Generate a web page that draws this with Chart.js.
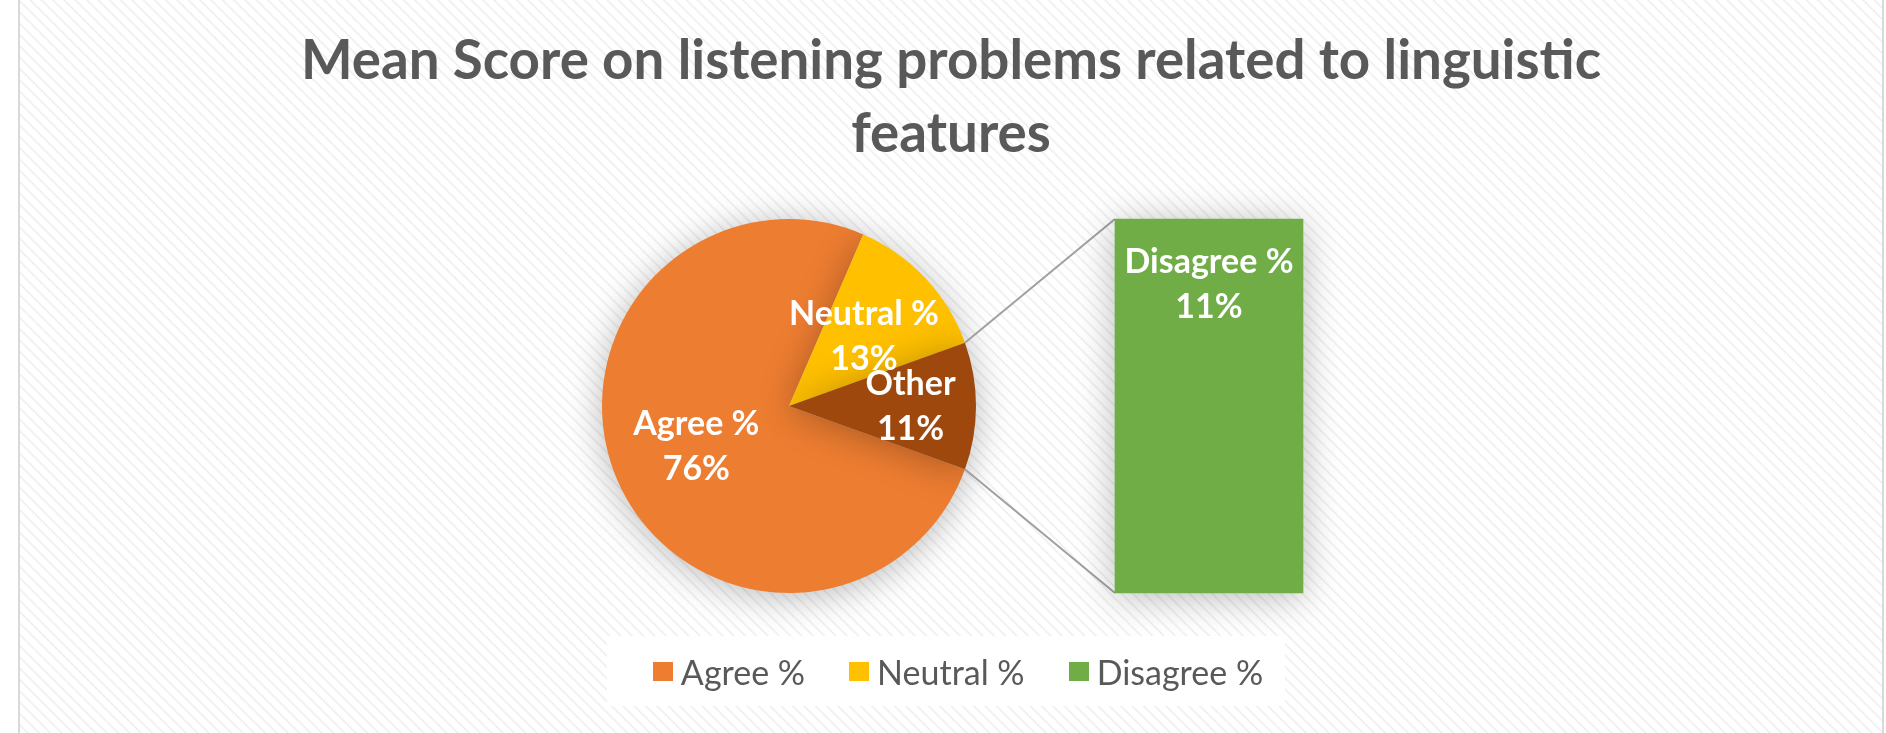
<!DOCTYPE html>
<html lang="en">
<head>
  <meta charset="UTF-8">
  <title>Mean Score on listening problems related to linguistic features</title>
  <script src="https://cdn.jsdelivr.net/npm/chart.js"></script>
  <style>
    body { margin: 0; background: #fff; }
    #page { position: relative; width: 1886px; height: 733px; overflow: hidden; background: #fff; }
    #frame {
      position: absolute; left: 18px; top: 0; width: 1862px; height: 733px;
      border-left: 2px solid #d9d9d9; border-right: 2px solid #d9d9d9;
      background: repeating-linear-gradient(45deg, #ffffff 0px, #ffffff 4px, #ededed 5.5px, #ffffff 7px, #ffffff 8px);
    }
    #title {
      position: absolute; left: 0; width: 1902px; top: 22px; text-align: center;
      font-family: Lato, sans-serif; font-weight: bold; color: #595959;
      font-size: 50px; line-height: 73px; white-space: nowrap;
    }
    canvas { position: absolute; left: 0; top: 0; }
    #legendBox {
      position: absolute; left: 607px; top: 636px; width: 678px; height: 70px;
      background: rgba(255,255,255,0.92);
    }
    #legend {
      position: absolute; left: 619px; top: 636px; width: 678px; height: 70px;
      display: flex; justify-content: center; align-items: center;
      font-family: Lato, sans-serif; font-size: 34px; color: #595959; white-space: nowrap;
    }
    .item { display: flex; align-items: center; margin: 0 22px; flex-shrink: 0; }
    .box { width: 20px; height: 19px; margin-right: 8px; }
  </style>
</head>
<body>
  <div id="page">
    <div id="frame"></div>
    <div id="title">Mean Score on listening problems related to linguistic<br>features</div>
    <canvas id="pieChart" width="1886" height="733"></canvas>
    <canvas id="barChart" width="1886" height="733"></canvas>
    <div id="legendBox"></div>
    <div id="legend"></div>
  </div>

  <script>
    // chart data
    const categories = ['Agree %', 'Neutral %', 'Disagree %'];
    const values = [76, 13, 11];
    const colors = ['#ED7D31', '#FFC000', '#70AD47'];
    // first two stay in the pie, the rest is split off into the bar
    const pieLabels = ['Agree %', 'Neutral %', 'Other'];
    const pieValues = [values[0], values[1], values[2]];
    const pieColors = ['#ED7D31', '#FFC000', '#9E480E'];
    const barLabels = ['Disagree %'];
    const barValues = [values[2]];

    const total = pieValues.reduce((a, b) => a + b, 0);
    const labelFont = 'bold 34px Lato, sans-serif';
    const labelDist = [0.54, 0.55, 0.65];

    // fit title width like the original
    (function () {
      const c = document.createElement('canvas').getContext('2d');
      c.font = 'bold 50px Lato, sans-serif';
      const w = c.measureText('Mean Score on listening problems related to linguistic').width;
      document.getElementById('title').style.fontSize = (50 * 1300 / w).toFixed(1) + 'px';
    })();

    // legend
    const legend = document.getElementById('legend');
    categories.forEach((c, i) => {
      const item = document.createElement('div');
      item.className = 'item';
      item.innerHTML = '<span class="box" style="background:' + colors[i] + '"></span>' + c;
      legend.appendChild(item);
    });

    function setShadow(ctx) {
      ctx.save();
      ctx.shadowColor = 'rgba(0,0,0,0.28)';
      ctx.shadowBlur = 36;
      ctx.shadowOffsetX = 0;
      ctx.shadowOffsetY = 4;
    }

    const pieLabelPlugin = {
      id: 'pieLabels',
      beforeDatasetsDraw(chart) {
        setShadow(chart.ctx);
      },
      afterDatasetsDraw(chart) {
        const ctx = chart.ctx;
        ctx.restore();
        const meta = chart.getDatasetMeta(0);
        ctx.save();
        ctx.font = labelFont;
        ctx.fillStyle = '#fff';
        ctx.textAlign = 'center';
        ctx.textBaseline = 'middle';
        meta.data.forEach((arc, i) => {
          const mid = (arc.startAngle + arc.endAngle) / 2;
          const x = arc.x + Math.cos(mid) * arc.outerRadius * labelDist[i];
          const y = arc.y + Math.sin(mid) * arc.outerRadius * labelDist[i];
          const pct = Math.round(pieValues[i] / total * 100) + '%';
          ctx.fillText(pieLabels[i], x, y - 22);
          ctx.fillText(pct, x, y + 23);
        });
        ctx.restore();
      }
    };

    const pieChart = new Chart(document.getElementById('pieChart'), {
      type: 'pie',
      data: {
        labels: pieLabels,
        datasets: [{
          data: pieValues,
          backgroundColor: pieColors,
          borderWidth: 0,
          clip: false
        }]
      },
      options: {
        responsive: false,
        animation: false,
        rotation: 90 + (pieValues[2] / total) * 180,
        layout: { padding: { left: 602, right: 910, top: 219, bottom: 140 } },
        plugins: { legend: { display: false }, tooltip: { enabled: false }, title: { display: false } }
      },
      plugins: [pieLabelPlugin]
    });

    const barPlugin = {
      id: 'barExtras',
      beforeDatasetsDraw(chart) {
        const ctx = chart.ctx;
        // connector lines from the "Other" slice to the bar
        const arc = pieChart.getDatasetMeta(0).data[2];
        const bar = chart.getDatasetMeta(0).data[0];
        const left = bar.x - bar.width / 2;
        ctx.save();
        ctx.strokeStyle = '#a0a0a0';
        ctx.lineWidth = 2;
        ctx.beginPath();
        ctx.moveTo(arc.x + Math.cos(arc.startAngle) * arc.outerRadius, arc.y + Math.sin(arc.startAngle) * arc.outerRadius);
        ctx.lineTo(left, bar.y);
        ctx.moveTo(arc.x + Math.cos(arc.endAngle) * arc.outerRadius, arc.y + Math.sin(arc.endAngle) * arc.outerRadius);
        ctx.lineTo(left, bar.base);
        ctx.stroke();
        ctx.restore();
        setShadow(ctx);
      },
      afterDatasetsDraw(chart) {
        const ctx = chart.ctx;
        ctx.restore();
        const bar = chart.getDatasetMeta(0).data[0];
        ctx.save();
        ctx.font = labelFont;
        ctx.fillStyle = '#fff';
        ctx.textAlign = 'center';
        ctx.textBaseline = 'middle';
        const pct = Math.round(barValues[0] / total * 100) + '%';
        ctx.fillText(barLabels[0], bar.x, bar.y + 43);
        ctx.fillText(pct, bar.x, bar.y + 88);
        ctx.restore();
      }
    };

    new Chart(document.getElementById('barChart'), {
      type: 'bar',
      data: {
        labels: barLabels,
        datasets: [{
          data: barValues,
          backgroundColor: colors[2],
          borderWidth: 0,
          barPercentage: 1,
          categoryPercentage: 1,
          clip: false
        }]
      },
      options: {
        responsive: false,
        animation: false,
        layout: { padding: { left: 1115, right: 583, top: 219, bottom: 140 } },
        scales: {
          x: { display: false },
          y: { display: false, min: 0, max: barValues[0] }
        },
        plugins: { legend: { display: false }, tooltip: { enabled: false }, title: { display: false } }
      },
      plugins: [barPlugin]
    });
  </script>
</body>
</html>
